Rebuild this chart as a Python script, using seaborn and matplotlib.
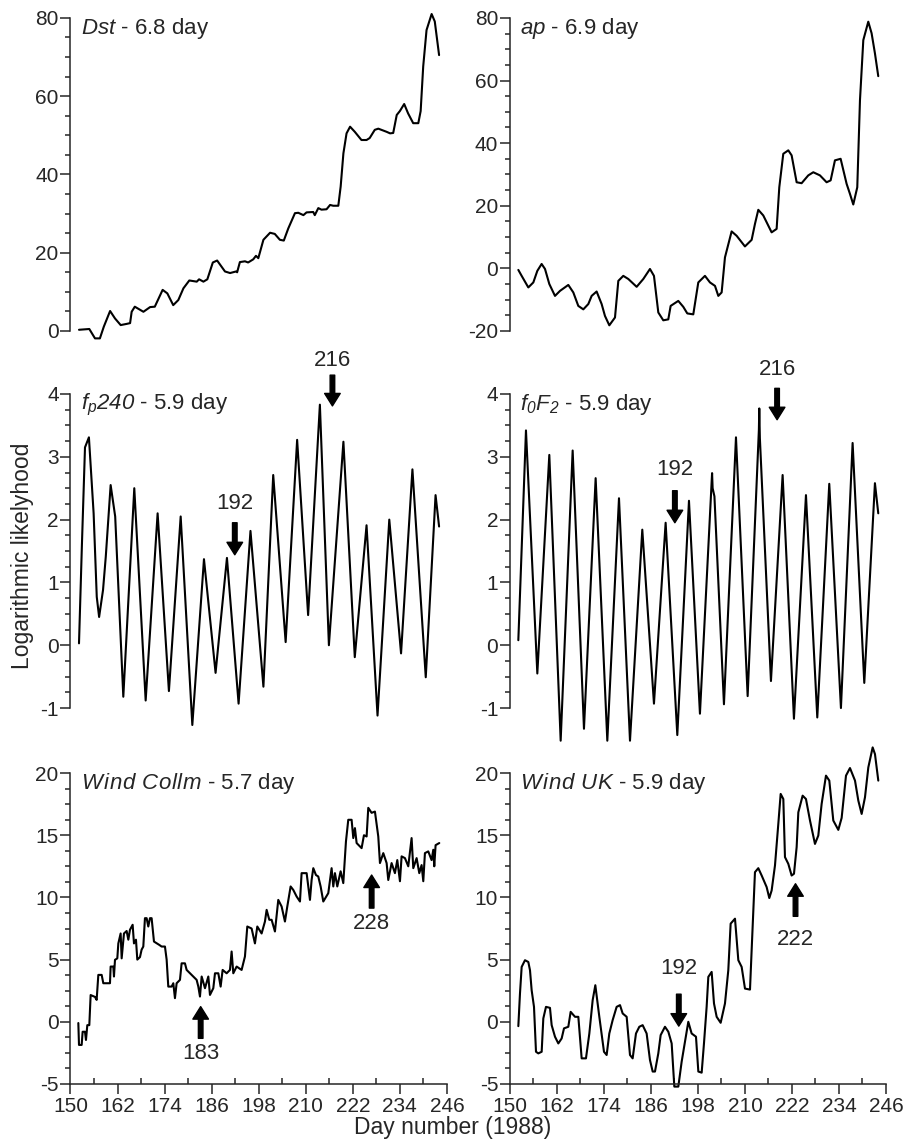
import matplotlib
matplotlib.use("Agg")
import matplotlib.pyplot as plt
from matplotlib.ticker import MultipleLocator
import seaborn as sns
import pandas as pd

# ---- series: day number (1988) and logarithmic likelihood ----
dst_day = [152.17, 154.8, 156.25, 157.5, 158.5, 160.1, 161.35, 162.8, 164.3, 165.2, 165.6,
           166.4, 168.6, 170.3, 171.5, 173.5, 174.7, 176.2, 177.5, 178.8, 180.3, 182.2,
           182.8, 183.9, 184.9, 186.3, 187.4, 189.4, 190.7, 192.2, 192.5, 193.2, 194.5,
           195.3, 196.6, 197.3, 197.9, 199.2, 200.9, 202.1, 203.4, 204.4, 205.54, 207.24,
           208.09, 209.4, 210.2, 211.9, 212.3, 213.2, 214.0, 215.3, 216.2, 217.0, 218.3,
           218.9, 219.6, 220.4, 221.3, 222.5, 224.2, 225.5, 226.3, 227.6, 228.5, 230.6,
           231.5, 232.3, 233.2, 234.0, 235.1, 236.1, 237.4, 238.7, 239.3, 239.95, 240.8,
           242.1, 242.9, 244.0]
dst_val = [0.3, 0.5, -1.9, -1.9, 1.1, 5.1, 3.2, 1.5, 1.8, 2.0, 4.9,
           6.2, 4.9, 6.1, 6.2, 10.5, 9.6, 6.6, 7.9, 10.9, 12.9, 12.6,
           13.2, 12.6, 13.2, 17.5, 18.0, 15.2, 14.8, 15.2, 15.0, 17.6, 17.8,
           17.5, 18.3, 19.2, 18.6, 23.3, 25.1, 24.8, 23.3, 23.1, 26.2, 30.1,
           30.2, 29.6, 30.3, 30.4, 29.6, 31.4, 31.0, 31.1, 32.2, 32.0, 32.0,
           36.9, 45.4, 50.5, 52.2, 50.9, 48.8, 48.8, 49.3, 51.4, 51.7, 50.9,
           50.5, 50.6, 55.2, 56.2, 58.0, 55.6, 53.1, 53.1, 56.2, 67.6, 76.9,
           81.0, 79.1, 70.5]

ap_day = [152.13, 152.98, 154.68, 155.96, 156.98, 158.08, 158.94, 160.04, 161.49, 162.77,
          164.89, 166.17, 167.44, 168.72, 170.0, 170.85, 172.12, 173.4, 174.25, 175.36,
          176.81, 177.66, 178.93, 180.21, 182.34, 184.04, 185.74, 186.76, 187.87, 189.14,
          190.42, 191.02, 192.97, 194.25, 195.27, 196.8, 198.08, 199.78, 201.06, 202.34,
          203.19, 204.04, 204.89, 206.59, 207.87, 209.99, 211.7, 212.55, 213.4, 214.67,
          216.8, 218.08, 218.76, 219.78, 221.06, 221.91, 223.19, 224.46, 226.16, 227.44,
          229.14, 230.84, 231.87, 232.97, 234.42, 235.95, 236.8, 237.65, 238.67, 239.36,
          240.21, 241.48, 242.33, 243.18, 244.03]
ap_val = [-0.5, -2.4, -6.1, -4.5, -0.8, 1.4, -0.2, -5.0, -8.8, -7.2,
          -5.3, -7.7, -12.0, -13.1, -11.4, -8.8, -7.4, -11.4, -15.2, -18.2,
          -15.7, -4.0, -2.4, -3.4, -5.9, -3.4, -0.2, -2.4, -14.1, -16.6,
          -16.3, -12.0, -10.4, -12.3, -14.4, -14.7, -4.5, -2.4, -4.5, -5.6,
          -8.8, -7.7, 3.5, 11.8, 10.4, 7.0, 9.1, 14.2, 18.7, 16.9,
          11.5, 12.6, 25.9, 36.6, 37.7, 36.1, 27.5, 27.2, 29.7, 30.7,
          29.7, 27.5, 28.1, 34.5, 35.0, 27.0, 23.8, 20.4, 25.9, 53.7,
          72.9, 78.8, 75.1, 68.7, 61.4]

fp_day = [152.17, 152.9, 153.7, 154.7, 155.9, 156.7, 157.3, 158.3, 159.0, 160.24, 161.4,
          163.47, 166.27, 169.17, 172.22, 175.1, 178.1, 181.07, 184.04, 187.0, 189.9,
          192.87, 195.9, 199.2, 201.7, 204.87, 207.8, 210.6, 213.6, 215.9, 219.6, 222.5,
          225.5, 228.3, 231.3, 234.3, 237.2, 240.6, 243.1, 244.0]
fp_val = [0.03, 1.57, 3.15, 3.31, 2.1, 0.77, 0.45, 0.88, 1.41, 2.55, 2.05,
          -0.82, 2.5, -0.88, 2.1, -0.73, 2.05, -1.27, 1.37, -0.44, 1.39,
          -0.93, 1.82, -0.66, 2.71, 0.05, 3.27, 0.48, 3.83, 0.0, 3.24, -0.19,
          1.91, -1.12, 2.0, -0.13, 2.8, -0.51, 2.39, 1.89]

fof2_day = [152.13, 154.08, 156.98, 160.04, 162.94, 166.0, 168.89, 171.87, 174.85, 177.83,
            180.64, 183.78, 186.76, 189.74, 192.72, 195.7, 198.5, 201.6, 201.74, 202.2,
            204.63, 207.7, 210.68, 213.55, 213.65, 213.8, 216.63, 219.61, 222.5, 225.57,
            228.46, 231.52, 234.5, 237.48, 240.46, 243.18, 244.03]
fof2_val = [0.08, 3.42, -0.45, 3.03, -1.52, 3.10, -1.33, 2.66, -1.52, 2.34,
            -1.52, 1.84, -0.93, 1.95, -1.43, 2.30, -1.09, 2.74, 2.5, 2.37,
            -0.94, 3.31, -0.81, 3.43, 3.77, 3.3, -0.57, 2.71, -1.17, 2.39,
            -1.15, 2.57, -1.0, 3.22, -0.6, 2.58, 2.1]

collm_day = [152.0, 152.17, 152.85, 153.1, 153.7, 153.95, 154.29, 154.8, 155.14, 156.25,
             156.67, 157.1, 157.95, 158.37, 160.07, 160.24, 160.92, 161.09, 161.35, 161.94,
             162.2, 162.79, 163.05, 163.64, 164.32, 164.75, 165.17, 165.85, 166.19, 166.7,
             167.04, 167.72, 168.14, 168.57, 168.99, 169.42, 169.84, 170.27, 170.69, 171.29,
             171.97, 172.65, 173.24, 174.09, 174.52, 174.94, 175.79, 176.22, 176.64, 177.07,
             177.92, 178.34, 179.19, 179.62, 180.47, 181.32, 182.17, 182.6, 183.02, 183.45,
             184.3, 185.15, 185.57, 186.42, 186.85, 187.7, 188.29, 188.8, 189.82, 190.67,
             191.09, 191.52, 192.37, 193.64, 194.49, 195.09, 196.19, 197.04, 197.64, 198.74,
             199.59, 200.02, 200.7, 201.29, 202.14, 202.99, 203.84, 204.69, 205.29, 206.14,
             206.82, 207.67, 208.52, 208.94, 210.22, 211.07, 211.49, 211.92, 212.6, 213.19,
             213.79, 214.47, 215.74, 216.59, 217.02, 217.44, 218.04, 218.89, 219.57, 220.25,
             220.84, 221.69, 222.12, 222.54, 222.97, 224.24, 224.84, 225.52, 225.94, 226.79,
             227.64, 228.49, 228.92, 229.77, 230.62, 231.04, 231.89, 232.74, 233.34, 234.02,
             234.44, 235.29, 236.14, 236.99, 237.42, 238.27, 238.95, 239.54, 239.97, 240.39,
             241.24, 242.09, 242.52, 242.77, 243.11, 244.05]
collm_val = [-0.1, -1.86, -1.86, -0.8, -0.8, -1.46, -0.27, -0.27, 2.15, 2.0,
             1.76, 3.77, 3.77, 3.1, 3.1, 4.44, 4.44, 3.64, 4.98, 5.1,
             6.3, 7.1, 5.1, 7.1, 7.3, 6.6, 7.4, 7.8, 6.3, 6.6,
             5.0, 5.2, 5.8, 6.05, 8.33, 8.33, 7.66, 8.33, 8.33, 6.45,
             6.32, 6.18, 6.05, 6.05, 5.0, 2.83, 2.83, 3.1, 1.9, 3.1,
             3.37, 4.7, 4.7, 4.17, 3.9, 3.64, 3.37, 2.83, 2.03, 3.64,
             2.7, 3.64, 2.16, 2.7, 3.9, 3.9, 2.83, 4.17, 3.9, 4.17,
             5.65, 3.9, 4.44, 4.17, 5.25, 7.66, 7.5, 6.3, 7.66, 7.1,
             8.06, 9.0, 8.2, 8.2, 7.26, 9.8, 9.27, 8.06, 9.27, 10.88,
             10.6, 10.07, 9.67, 11.95, 11.95, 9.8, 11.4, 12.35, 11.8, 11.68,
             10.88, 9.67, 10.34, 12.35, 10.88, 11.95, 10.88, 12.1, 11.15, 14.5,
             16.24, 16.24, 14.77, 15.57, 14.37, 13.96, 15.0, 14.9, 17.2, 16.8,
             16.9, 14.9, 12.76, 13.56, 12.76, 11.4, 12.76, 11.95, 13.0, 11.3,
             13.3, 13.16, 12.5, 14.77, 12.35, 13.16, 11.95, 12.6, 11.3, 13.56,
             13.7, 13.0, 13.83, 12.5, 14.2, 14.37]

uk_day = [152.13, 152.55, 152.98, 153.83, 154.68, 155.11, 155.53, 156.13, 156.64, 157.23,
          158.09, 158.51, 159.19, 160.21, 160.64, 161.49, 162.34, 163.19, 163.79, 164.89,
          165.49, 166.6, 167.45, 168.3, 169.4, 170.26, 171.11, 171.79, 172.81, 174.0,
          174.68, 175.36, 176.21, 177.23, 178.09, 178.77, 179.79, 180.64, 181.32, 182.17,
          183.02, 183.87, 184.89, 185.74, 186.43, 187.02, 187.87, 188.47, 189.57, 190.43,
          191.28, 191.96, 192.98, 193.83, 194.68, 195.53, 196.38, 197.49, 198.09, 198.94,
          199.53, 200.21, 200.64, 201.49, 202.09, 202.77, 203.79, 204.89, 205.74, 206.34,
          207.45, 208.3, 209.15, 210.0, 211.28, 211.7, 212.55, 213.4, 214.26, 215.53,
          216.21, 216.81, 217.66, 218.51, 219.11, 219.79, 220.21, 221.06, 221.91, 222.51,
          223.19, 223.62, 224.72, 225.57, 226.6, 227.87, 228.72, 229.57, 230.68, 231.53,
          232.55, 233.83, 234.68, 235.79, 236.81, 238.09, 238.94, 239.79, 240.64, 241.49,
          242.6, 243.19, 244.04]
uk_val = [-0.35, 2.27, 4.41, 4.95, 4.81, 4.14, 2.54, 1.2, -2.41, -2.54,
          -2.41, 0.27, 1.2, 1.12, -0.27, -1.2, -1.74, -1.34, -0.53, -0.4,
          0.8, 0.4, 0.4, -2.94, -2.94, -0.94, 1.74, 2.94, 0.4, -2.41,
          -2.67, -0.94, 0.13, 1.2, 1.34, 0.67, 0.4, -2.67, -2.94, -0.94,
          -0.4, -0.27, -0.94, -3.07, -4.0, -4.0, -2.54, -1.07, -0.4, -0.8,
          -1.74, -5.21, -5.21, -3.21, -1.6, 0.0, -0.94, -1.2, -4.0, -4.09,
          -1.74, 1.2, 3.61, 4.01, 1.47, 0.4, -0.08, 1.47, 4.14, 7.89,
          8.29, 4.95, 4.41, 2.67, 2.59, 5.75, 12.03, 12.35, 11.76, 10.83,
          9.95, 10.56, 12.57, 15.91, 18.32, 17.91, 13.24, 12.7, 11.76, 11.9,
          14.04, 16.84, 18.18, 17.91, 16.18, 14.3, 14.97, 17.51, 19.79, 19.39,
          16.18, 15.43, 16.39, 19.79, 20.4, 19.39, 17.78, 16.71, 18.05, 20.45,
          22.06, 21.52, 19.39]

panel_titles = [r"$Dst$ - 6.8 day",
                r"$ap$ - 6.9 day",
                r"$f_{p}240$ - 5.9 day",
                r"$f_{0}F_{2}$ - 5.9 day",
                r"$W\hspace{0.06}i\hspace{0.06}n\hspace{0.06}d\ C\hspace{0.04}o\hspace{0.04}l\hspace{0.04}l\hspace{0.04}m$ - 5.7 day",
                r"$W\hspace{0.06}i\hspace{0.06}n\hspace{0.06}d\ U\hspace{0.04}K$ - 5.9 day"]

day_ticks = [150, 162, 174, 186, 198, 210, 222, 234, 246]

# arrow marks: (label, x, text y, tail y, head y)
fp_marks = [("216", 216.8, 4.54, 4.30, 3.81), ("192", 191.9, 2.26, 1.95, 1.44)]
fof2_marks = [("216", 218.2, 4.39, 4.09, 3.59), ("192", 192.1, 2.79, 2.46, 1.95)]
collm_marks = [("183", 183.2, -2.53, -1.33, 1.22), ("228", 226.8, 7.88, 9.14, 11.8)]
uk_marks = [("192", 193.1, 4.28, 2.22, -0.35), ("222", 222.9, 6.63, 8.48, 11.1)]

# ---- styling ----
sns.set_style("ticks")
plt.rcParams["font.family"] = ["Liberation Sans", "DejaVu Sans"]
plt.rcParams["axes.unicode_minus"] = False
# every math-mode fragment in the panel titles is set in italic sans
plt.rcParams["mathtext.fontset"] = "custom"
plt.rcParams["mathtext.rm"] = "Liberation Sans:italic"
plt.rcParams["mathtext.it"] = "Liberation Sans:italic"
plt.rcParams["mathtext.bf"] = "Liberation Sans:bold"
plt.rcParams["mathtext.default"] = "it"
plt.rcParams["axes.linewidth"] = 1.1

fig = plt.figure(figsize=(9.06, 11.42), dpi=100)

col_x = [0.0778, 0.5629]
col_w = [0.4155, 0.415]
row_y = [0.7102, 0.3800, 0.0508]
row_h = [0.2741, 0.2750, 0.2723]

panels = [
    (dst_day, dst_val, (0, 80), 20, 5, []),
    (ap_day, ap_val, (-20, 80), 20, 5, []),
    (fp_day, fp_val, (-1, 4), 1, 0.25, fp_marks),
    (fof2_day, fof2_val, (-1, 4), 1, 0.25, fof2_marks),
    (collm_day, collm_val, (-5, 20), 5, 1.25, collm_marks),
    (uk_day, uk_val, (-5, 20), 5, 1.25, uk_marks),
]

for i, (xd, yd, ylim, major, minor, marks) in enumerate(panels):
    r, c = divmod(i, 2)
    ax = fig.add_axes([col_x[c], row_y[r], col_w[c], row_h[r]])
    df = pd.DataFrame({"day": xd, "value": yd})
    sns.lineplot(data=df, x="day", y="value", ax=ax, color="black",
                 linewidth=1.5, estimator=None, sort=True)
    for ln in ax.lines:
        ln.set_clip_on(False)
    ax.set_xlim(150, 246)
    ax.set_ylim(*ylim)
    ax.set_xlabel("")
    ax.set_ylabel("")
    ax.spines["top"].set_visible(False)
    ax.spines["right"].set_visible(False)
    ax.yaxis.set_major_locator(MultipleLocator(major))
    ax.yaxis.set_minor_locator(MultipleLocator(minor))
    ax.tick_params(axis="y", which="major", direction="out", length=7.5,
                   width=1.1, labelsize=15, pad=1)
    ax.tick_params(axis="y", which="minor", direction="out", length=3.8, width=1.1)
    if r < 2:
        ax.spines["bottom"].set_visible(False)
        ax.tick_params(axis="x", which="both", bottom=False, labelbottom=False)
    else:
        ax.set_xticks(day_ticks)
        ax.xaxis.set_minor_locator(MultipleLocator(6))
        ax.tick_params(axis="x", which="major", direction="out", length=7.5,
                       width=1.1, labelsize=15, pad=2)
        ax.tick_params(axis="x", which="minor", direction="in", length=4.5, width=1.1)
    ax.text(0.028 if c == 0 else 0.027, 0.966, panel_titles[i], transform=ax.transAxes,
            ha="left", va="center", fontsize=16)
    for label, mx, ty, tail, head in marks:
        ax.annotate("", xy=(mx, head), xytext=(mx, tail),
                    arrowprops=dict(arrowstyle="simple,head_length=0.6,head_width=0.75,tail_width=0.22",
                                    fc="black", ec="black", shrinkA=0, shrinkB=0,
                                    mutation_scale=15),
                    annotation_clip=False)
        ax.text(mx, ty, label, ha="center", va="center", fontsize=16, clip_on=False)

fig.text(0.025, 0.513, "Logarithmic likelyhood", rotation=90, ha="center", va="center",
         fontsize=16.5)
fig.text(0.5, 0.0125, "Day number (1988)", ha="center", va="center", fontsize=16.5)

fig.savefig("out.png", dpi=100)
